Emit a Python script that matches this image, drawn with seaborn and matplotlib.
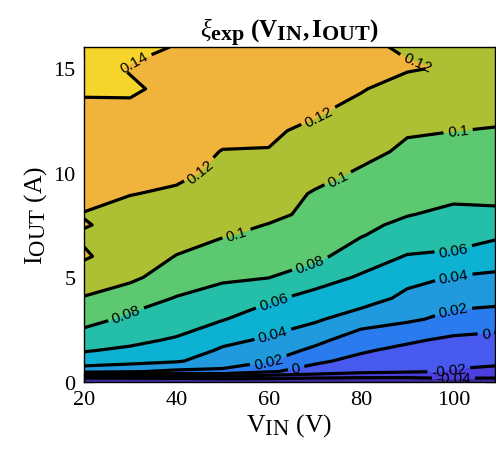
import numpy as np
import pandas as pd
import seaborn as sns
import matplotlib
matplotlib.use("Agg")
import matplotlib.pyplot as plt
import matplotlib._mathtext as mathtext_core
from matplotlib.ticker import MultipleLocator

# measured grid: input voltage (V) x output current (A)
v_in = [20, 30, 40, 50, 60, 70, 80, 90, 100, 110]
i_out = [0, 0.5, 1, 1.5, 2, 3, 4, 5, 6, 7, 7.5, 8, 9, 10, 11, 12, 13, 14, 15, 16]

# xi_exp for each V_IN column, listed along i_out
xi_v20 = [-0.08, 0.026, 0.052, 0.061, 0.07, 0.087, 0.099, 0.109, 0.1225, 0.117,
          0.1215, 0.119, 0.127, 0.13, 0.132, 0.134, 0.137, 0.142, 0.148, 0.151]
xi_v30 = [-0.075, 0.022, 0.047, 0.057, 0.064, 0.076, 0.089, 0.104, 0.109, 0.112,
          0.113, 0.115, 0.1205, 0.124, 0.127, 0.13, 0.136, 0.143, 0.1385, 0.146]
xi_v40 = [-0.07, 0.016, 0.042, 0.052, 0.058, 0.07, 0.079, 0.09, 0.0995, 0.106,
          0.108, 0.11, 0.118, 0.123, 0.126, 0.128, 0.13, 0.134, 0.135, 0.139]
xi_v50 = [-0.065, 0.016, 0.03, 0.037, 0.045, 0.061, 0.072, 0.083, 0.092, 0.101,
          0.104, 0.107, 0.111, 0.117, 0.1195, 0.124, 0.127, 0.129, 0.131, 0.134]
xi_v60 = [-0.06, 0.002, 0.021, 0.029, 0.037, 0.05, 0.063, 0.0805, 0.088, 0.096,
          0.0995, 0.103, 0.108, 0.113, 0.1195, 0.122, 0.124, 0.126, 0.127, 0.129]
xi_v70 = [-0.06, -0.007, 0.003, 0.016, 0.025, 0.043, 0.054, 0.068, 0.085, 0.092,
          0.094, 0.097, 0.0985, 0.106, 0.111, 0.117, 0.122, 0.124, 0.125, 0.126]
xi_v80 = [-0.058, -0.015, -0.005, 0.002, 0.01, 0.029, 0.05, 0.058, 0.069, 0.081,
          0.085, 0.088, 0.093, 0.098, 0.105, 0.111, 0.116, 0.121, 0.121, 0.123]
xi_v90 = [-0.056, -0.018, -0.012, -0.005, 0.003, 0.023, 0.035, 0.046, 0.059, 0.07,
          0.075, 0.081, 0.088, 0.094, 0.097, 0.1015, 0.107, 0.114, 0.1215, 0.118]
xi_v100 = [-0.05, -0.021, -0.017, -0.012, -0.004, 0.015, 0.026, 0.039, 0.057, 0.067,
           0.071, 0.075, 0.085, 0.089, 0.094, 0.1002, 0.106, 0.111, 0.1185, 0.117]
xi_v110 = [-0.05, -0.024, -0.017, -0.012, -0.006, 0.01, 0.026, 0.036, 0.05, 0.062,
           0.07, 0.076, 0.086, 0.091, 0.096, 0.099, 0.104, 0.108, 0.111, 0.114]

line_levels = [-0.04, -0.02, 0, 0.02, 0.04, 0.06, 0.08, 0.1, 0.12, 0.14]

table = pd.DataFrame(
    {20: xi_v20, 30: xi_v30, 40: xi_v40, 50: xi_v50, 60: xi_v60,
     70: xi_v70, 80: xi_v80, 90: xi_v90, 100: xi_v100, 110: xi_v110},
    index=i_out,
)

sns.set_style("ticks")
plt.rcParams.update({
    "font.family": ["Liberation Serif", "DejaVu Serif"],
    "mathtext.fontset": "custom",
    "mathtext.rm": "Liberation Serif",
    "mathtext.it": "Liberation Serif:italic",
    "mathtext.bf": "Liberation Serif:bold",
    "text.color": "black",
    "axes.labelcolor": "black",
    "xtick.color": "black",
    "ytick.color": "black",
    "axes.edgecolor": "black",
    "contour.negative_linestyle": "solid",
})
# MATLAB-style subscripts are larger than mathtext's default
mathtext_core.SHRINK_FACTOR = 0.88

# band colours (parula-like), from below -0.04 up to above 0.14
band_colors = sns.color_palette([
    "#3f2a9e", "#4c3fe0", "#4759ef", "#2a7cee", "#2099dd", "#0db2d3",
    "#25bfa9", "#5cc870", "#adbf33", "#f0b43c", "#f5d52b",
])
fill_levels = [-0.2] + line_levels + [0.2]

fig = plt.figure(figsize=(4.96, 4.60), dpi=100)
ax = fig.add_axes([84 / 496, 1 - 383 / 460, 1 - 84 / 496 - 0.002, (383 - 48) / 460])

X = np.array(table.columns, dtype=float)
Y = np.array(table.index, dtype=float)
Z = table.values

ax.contourf(X, Y, Z, levels=fill_levels, colors=band_colors)
cs = ax.contour(X, Y, Z, levels=line_levels, colors="k", linewidths=2.3,
                linestyles="solid")

label_spots = [
    (31, 15.2), (46, 9.9), (71, 12.6), (93, 15.7),
    (53, 7.1), (75, 9.7), (101, 12.0),
    (29, 3.3), (69, 5.6),
    (61, 3.9), (100, 6.3),
    (61, 2.2), (100, 5.1),
    (60, 0.95), (100, 3.4),
    (66, 0.6), (107, 2.4),
    (99, 0.55), (100, 0.08),
]
with plt.rc_context({"font.family": ["Liberation Sans", "DejaVu Sans"]}):
    ax.clabel(cs, fmt=lambda v: f"{v:g}", fontsize=11, inline=True,
              inline_spacing=4, manual=label_spots)

ax.set_xlim(20, 109)
ax.set_ylim(0, 16)
ax.xaxis.set_major_locator(MultipleLocator(20))
ax.yaxis.set_major_locator(MultipleLocator(5))
ax.yaxis.set_minor_locator(MultipleLocator(1))

ax.grid(True, which="major", color="k", alpha=0.12, linewidth=0.8)
ax.grid(True, which="minor", axis="y", color="k", alpha=0.15, linewidth=0.8,
        linestyle=":")

ax.tick_params(which="major", direction="in", length=7, width=0.9,
               top=True, right=True, labelsize=16, pad=6)
ax.tick_params(which="minor", length=0)
for s in ax.spines.values():
    s.set_linewidth(1.0)

ax.set_xlabel(r"$\mathrm{V_{IN}}$ (V)", fontsize=18.5, labelpad=1)
ax.set_ylabel(r"$\mathrm{I_{OUT}}$ (A)", fontsize=18.5, labelpad=3)
ax.set_title(r"$\xi_{\mathbf{exp}}\ \mathbf{(V_{IN},I_{OUT})}$", fontsize=18, pad=7)

fig.savefig("out.png", dpi=100)
